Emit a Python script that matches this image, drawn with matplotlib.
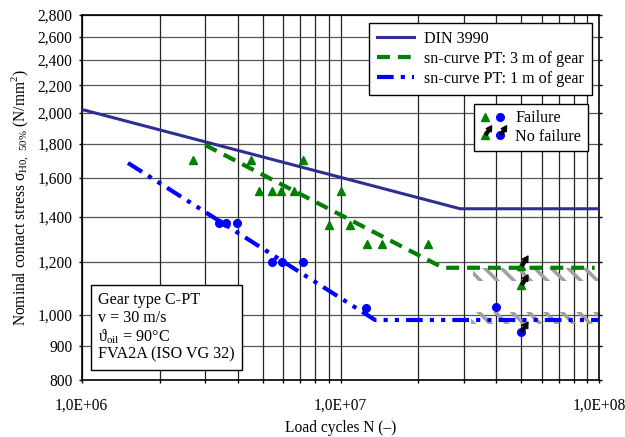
import numpy as np
import matplotlib
matplotlib.use('Agg')
import matplotlib.pyplot as plt
from matplotlib.path import Path
from matplotlib.lines import Line2D
from matplotlib.legend_handler import HandlerTuple
from matplotlib.ticker import FixedLocator, FixedFormatter, NullLocator

plt.rcParams['font.family'] = ['Liberation Serif', 'DejaVu Serif']
plt.rcParams['font.size'] = 11.2
plt.rcParams['hatch.linewidth'] = 2.6

# S-N curves (load cycles, stress)
din_n = [1.0e6, 2.9e7, 1.0e8]
din_s = [2025, 1440, 1440]
pt3_n = [3.0e6, 2.49e7, 9.6e7]
pt3_s = [1792, 1176, 1176]
pt1_n = [1.51e6, 1.36e7, 1.0e8]
pt1_s = [1685, 983, 983]

# test points
fail_tri_n = [2.70e6, 4.51e6, 4.86e6, 5.45e6, 5.89e6, 6.61e6, 7.18e6,
              9.05e6, 1.0e7, 1.085e7, 1.27e7, 1.45e7, 2.17e7]
fail_tri_s = [1700, 1700, 1530, 1530, 1530, 1530, 1700,
              1360, 1530, 1360, 1275, 1275, 1275]
fail_circ_n = [3.40e6, 3.61e6, 3.97e6, 5.42e6, 5.96e6, 7.18e6, 1.26e7, 4.0e7]
fail_circ_s = [1370, 1370, 1370, 1200, 1200, 1200, 1026, 1028]
nofail_tri_n = [5.0e7, 5.0e7]
nofail_tri_s = [1183, 1108]
nofail_circ_n = [5.0e7]
nofail_circ_s = [944]

# hatched endurance bands
hatch3_n = [3.26e7, 1.0e8]
hatch3_lo, hatch3_hi = 1122, 1176
hatch1_n = [3.2e7, 1.0e8]
hatch1_lo, hatch1_hi = 969, 1010

y_ticks = [800, 900, 1000, 1200, 1400, 1600, 1800, 2000, 2200, 2400, 2600, 2800]
x_ticks = [1e6, 1e7, 1e8]
x_labels = ['1,0E+06', '1,0E+07', '1,0E+08']

# arrow marker for "no failure" (starts at the point, points up-right)
arr = np.array([(0.1, -0.15), (0.7, -0.15), (0.7, -0.34), (1.3, 0.0),
                (0.7, 0.34), (0.7, 0.15), (0.1, 0.15), (0.1, -0.15)])
ang = np.deg2rad(58)
rot = np.array([[np.cos(ang), -np.sin(ang)], [np.sin(ang), np.cos(ang)]])
arrow_marker = Path(arr @ rot.T, closed=True)

fig = plt.figure(figsize=(6.25, 4.37), dpi=100)
ax = fig.add_axes([0.1307, 0.1304, 0.8282, 0.8353])
ax.set_xscale('log')
ax.set_yscale('log')
ax.set_xlim(1e6, 1e8)
ax.set_ylim(800, 2800)

# grid
for yv in y_ticks:
    ax.axhline(yv, color='#555555', lw=0.9, zorder=1)
for dec in [1e6, 1e7]:
    for k in range(1, 10):
        ax.axvline(dec * k, color='#222222', lw=0.9, zorder=1)

ax.fill_between(hatch3_n, hatch3_lo, hatch3_hi, facecolor='none', edgecolor='#a0a0a0',
                hatch='\\\\', linewidth=0, zorder=2)
ax.fill_between(hatch1_n, hatch1_lo, hatch1_hi, facecolor='none', edgecolor='#a0a0a0',
                hatch='\\\\', linewidth=0, zorder=2)

l_din, = ax.plot(din_n, din_s, color='#2e2e92', lw=2.2, zorder=3)
l_pt3, = ax.plot(pt3_n, pt3_s, color='#008000', lw=3, dashes=(3.1, 1.9), zorder=3)
l_pt1, = ax.plot(pt1_n, pt1_s, color='#0000ff', lw=3,
                 dashes=(4, 1.7, 1, 1.7, 1, 1.7), zorder=3)

ax.plot(fail_tri_n, fail_tri_s, ls='none', marker='^', ms=5.5, color='#008000', zorder=4)
ax.plot(fail_circ_n, fail_circ_s, ls='none', marker='o', ms=5.5, color='#0000ff', zorder=4)
ax.plot(nofail_tri_n, nofail_tri_s, ls='none', marker='^', ms=5.5, color='#008000', zorder=4)
ax.plot(nofail_circ_n, nofail_circ_s, ls='none', marker='o', ms=5.5, color='#0000ff', zorder=4)
ax.plot(nofail_tri_n + nofail_circ_n, nofail_tri_s + nofail_circ_s, ls='none',
        marker=arrow_marker, ms=15, color='black', zorder=5)

# axes styling
ax.yaxis.set_major_locator(FixedLocator(y_ticks))
ax.yaxis.set_major_formatter(FixedFormatter([f'{v:,}' for v in y_ticks]))
ax.yaxis.set_minor_locator(NullLocator())
ax.xaxis.set_major_locator(FixedLocator(x_ticks))
ax.xaxis.set_major_formatter(FixedFormatter(x_labels))
ax.tick_params(axis='y', which='both', direction='out', length=2.5, width=1,
               left=True, right=True, pad=4)
ax.tick_params(axis='x', which='major', direction='out', length=2.5, width=1, pad=10)
ax.tick_params(axis='x', which='minor', direction='out', length=2.5, width=1)
for sp in ax.spines.values():
    sp.set_linewidth(1.2)

ax.set_xlabel('Load cycles N (–)', labelpad=5)
ax.set_ylabel('Nominal contact stress σ$_\\mathregular{H0,\\ 50\\%}$ (N/mm$^\\mathregular{2}$)')

leg1 = ax.legend([l_din, l_pt3, l_pt1],
                 ['DIN 3990', 'sn-curve PT: 3 m of gear', 'sn-curve PT: 1 m of gear'],
                 loc='upper right', bbox_to_anchor=(0.9865, 0.978), borderaxespad=0,
                 handlelength=2.3, handletextpad=0.65, fancybox=False, framealpha=1,
                 edgecolor='black', labelspacing=0.25, borderpad=0.5, fontsize=11.6)
leg1.get_frame().set_linewidth(1)
ax.add_artist(leg1)

h_tri = Line2D([], [], ls='none', marker='^', ms=5.5, color='#008000')
h_circ = Line2D([], [], ls='none', marker='o', ms=5.5, color='#0000ff')
h_arr = Line2D([], [], ls='none', marker=arrow_marker, ms=14, color='black')
h_fail = (h_tri, h_circ)
h_nofail = ((h_tri, h_arr), (h_circ, h_arr))
leg2 = ax.legend([h_fail, h_nofail], ['Failure', 'No failure'],
                 handler_map={h_fail: HandlerTuple(ndivide=None, pad=0.3),
                              h_nofail: HandlerTuple(ndivide=None, pad=0.3)},
                 loc='upper right', bbox_to_anchor=(0.9776, 0.756), borderaxespad=0,
                 handlelength=1.6, handletextpad=0.6, numpoints=1, fancybox=False,
                 framealpha=1, edgecolor='black', labelspacing=0.15, borderpad=0.4,
                 fontsize=11.6)
leg2.get_frame().set_linewidth(1)

ax.text(0.0315, 0.047,
        'Gear type C-PT\nv = 30 m/s\nϑ$_\\mathregular{oil}$ = 90°C\nFVA2A (ISO VG 32)',
        transform=ax.transAxes, ha='left', va='bottom', linespacing=1.1, fontsize=11.6,
        zorder=6,
        bbox=dict(boxstyle='square,pad=0.45', facecolor='white', edgecolor='black', lw=1))

fig.savefig('out.png', dpi=100)
